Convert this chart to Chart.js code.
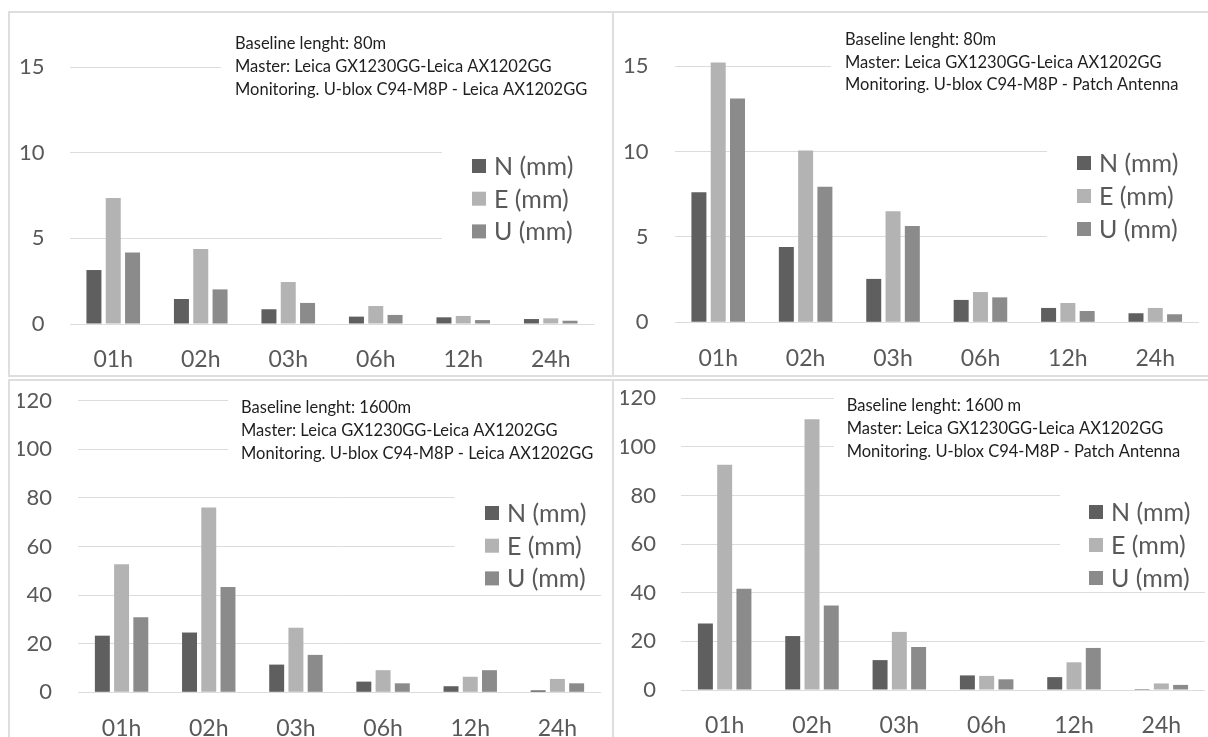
<!DOCTYPE html>
<html><head><meta charset="utf-8">
<script src="https://cdn.jsdelivr.net/npm/chart.js@4.4.1/dist/chart.umd.min.js"></script>
<style>
html,body{margin:0;padding:0;background:#fff;width:1208px;height:737px;overflow:hidden;position:relative}
.cv{position:absolute;left:0;top:0}
.frame{position:absolute;border:2px solid #dedede;box-sizing:border-box}
</style></head><body>
<div class="frame" style="left:8px;top:11px;width:606px;height:366px"></div>
<div class="frame" style="left:612px;top:11px;width:610px;height:366px"></div>
<div class="frame" style="left:8px;top:379px;width:606px;height:400px"></div>
<div class="frame" style="left:612px;top:379px;width:610px;height:400px"></div>
<canvas id="cA" class="cv" width="1208" height="780"></canvas>
<canvas id="cB" class="cv" width="1208" height="780"></canvas>
<canvas id="cC" class="cv" width="1208" height="780"></canvas>
<canvas id="cD" class="cv" width="1208" height="780"></canvas>
<script>
// ---- data ----
const categories = ['01h','02h','03h','06h','12h','24h'];
const seriesLabels = ['N (mm)','E (mm)','U (mm)'];
const seriesColors = ['#5f5f5f','#b3b3b3','#8b8b8b'];

// Baseline 80 m, Leica antenna
const a_N = [3.15,1.46,0.86,0.43,0.39,0.29];
const a_E = [7.35,4.38,2.45,1.05,0.47,0.33];
const a_U = [4.18,2.02,1.23,0.53,0.23,0.19];
// Baseline 80 m, patch antenna
const b_N = [7.61,4.41,2.54,1.31,0.84,0.53];
const b_E = [15.21,10.06,6.5,1.77,1.13,0.84];
const b_U = [13.1,7.94,5.64,1.46,0.66,0.47];
// Baseline 1600 m, Leica antenna
const c_N = [23.3,24.6,11.4,4.4,2.5,0.8];
const c_E = [52.7,76.1,26.6,9.1,6.4,5.5];
const c_U = [30.9,43.3,15.4,3.7,9.1,3.7];
// Baseline 1600 m, patch antenna
const d_N = [27.4,22.2,12.3,6.0,5.3,0.4];
const d_E = [92.7,111.4,23.9,5.8,11.4,2.7];
const d_U = [41.7,34.8,17.7,4.4,17.3,2.1];

const noteA = ['Baseline lenght: 80m','Master: Leica GX1230GG-Leica AX1202GG','Monitoring. U-blox C94-M8P - Leica AX1202GG'];
const noteB = ['Baseline lenght: 80m','Master: Leica GX1230GG-Leica AX1202GG','Monitoring. U-blox C94-M8P - Patch Antenna'];
const noteC = ['Baseline lenght: 1600m','Master: Leica GX1230GG-Leica AX1202GG','Monitoring. U-blox C94-M8P - Leica AX1202GG'];
const noteD = ['Baseline lenght: 1600 m','Master: Leica GX1230GG-Leica AX1202GG','Monitoring. U-blox C94-M8P - Patch Antenna'];

const yMaxSmall = 15, yStepSmall = 5;
const yMaxLarge = 120, yStepLarge = 20;

// ---- overlay plugin: white boxes, notes, legend ----
const overlay = {
  id: 'overlay',
  beforeDatasetsDraw(chart, args, o) {
    const ctx = chart.ctx;
    ctx.save();
    ctx.fillStyle = '#ffffff';
    ctx.fillRect(o.noteBox[0], o.noteBox[1], o.noteBox[2], o.noteBox[3]);
    ctx.fillRect(o.legBox[0], o.legBox[1], o.legBox[2], o.legBox[3]);
    ctx.restore();
  },
  afterDraw(chart, args, o) {
    const ctx = chart.ctx;
    ctx.save();
    ctx.textBaseline = 'middle';
    ctx.textAlign = 'left';
    ctx.font = '16.5px Lato';
    ctx.fillStyle = '#1e1e1e';
    o.lines.forEach((t, i) => ctx.fillText(t, o.noteX, o.noteY + i * o.noteDy));
    ctx.font = '25px Lato';
    chart.data.datasets.forEach((ds, i) => {
      const cy = o.legY + i * o.legDy;
      ctx.fillStyle = ds.backgroundColor;
      ctx.fillRect(o.legX, cy - 7, 14, 14);
      ctx.fillStyle = '#595959';
      ctx.fillText(ds.label, o.legX + 22, cy + 1);
    });
    ctx.restore();
  }
};

function makeChart(id, N, E, U, lines, g) {
  const W = 1208, H = 780;
  const yW = 60, xH = 80;
  new Chart(document.getElementById(id), {
    type: 'bar',
    data: {
      labels: categories,
      datasets: [N, E, U].map((d, i) => ({
        label: seriesLabels[i], data: d, backgroundColor: seriesColors[i],
        borderWidth: 0, categoryPercentage: 0.662, barPercentage: 0.777, clip: false
      }))
    },
    options: {
      responsive: false, animation: false, devicePixelRatio: 1,
      layout: { padding: { left: g.L - yW, right: W - g.R, top: g.T, bottom: H - g.B - xH } },
      plugins: {
        legend: { display: false }, tooltip: { enabled: false },
        overlay: Object.assign({ lines: lines }, g.ov)
      },
      scales: {
        x: {
          grid: { display: false }, border: { display: false },
          ticks: { color: '#595959', font: { family: 'Lato', size: 23 }, padding: 14 },
          afterFit(s) { s.height = xH; }
        },
        y: {
          min: 0, max: g.max,
          grid: { color: '#dcdcdc', lineWidth: 1, drawTicks: false }, border: { display: false },
          ticks: { stepSize: g.step, color: '#595959', font: { family: 'Lato', size: 22 }, padding: g.tp },
          afterFit(s) { s.width = yW; }
        }
      }
    },
    plugins: [overlay]
  });
}

makeChart('cA', a_N, a_E, a_U, noteA, {
  L: 69.5, R: 594.5, T: 67, B: 324, max: yMaxSmall, step: yStepSmall, tp: 25,
  ov: { noteX: 235, noteY: 44, noteDy: 23, noteBox: [221, 26, 385, 76],
        legX: 472, legY: 166, legDy: 32.7, legBox: [442, 144, 164, 104] }
});
makeChart('cB', b_N, b_E, b_U, noteB, {
  L: 674.5, R: 1199, T: 66, B: 322.3, max: yMaxSmall, step: yStepSmall, tp: 26,
  ov: { noteX: 845, noteY: 40, noteDy: 22.5, noteBox: [831, 22, 375, 76],
        legX: 1077, legY: 163, legDy: 33, legBox: [1047, 142, 160, 104] }
});
makeChart('cC', c_N, c_E, c_U, noteC, {
  L: 78, R: 601, T: 400.7, B: 692.3, max: yMaxLarge, step: yStepLarge, tp: 26,
  ov: { noteX: 241, noteY: 408, noteDy: 22.7, noteBox: [228, 390, 378, 76],
        legX: 485, legY: 513, legDy: 32.7, legBox: [454.5, 492, 150, 100] }
});
makeChart('cD', d_N, d_E, d_U, noteD, {
  L: 681, R: 1205, T: 398.3, B: 690, max: yMaxLarge, step: yStepLarge, tp: 25,
  ov: { noteX: 846.7, noteY: 406, noteDy: 22.8, noteBox: [834, 388, 374, 76],
        legX: 1089, legY: 512, legDy: 33, legBox: [1060, 492, 148, 100] }
});
</script>
</body></html>
